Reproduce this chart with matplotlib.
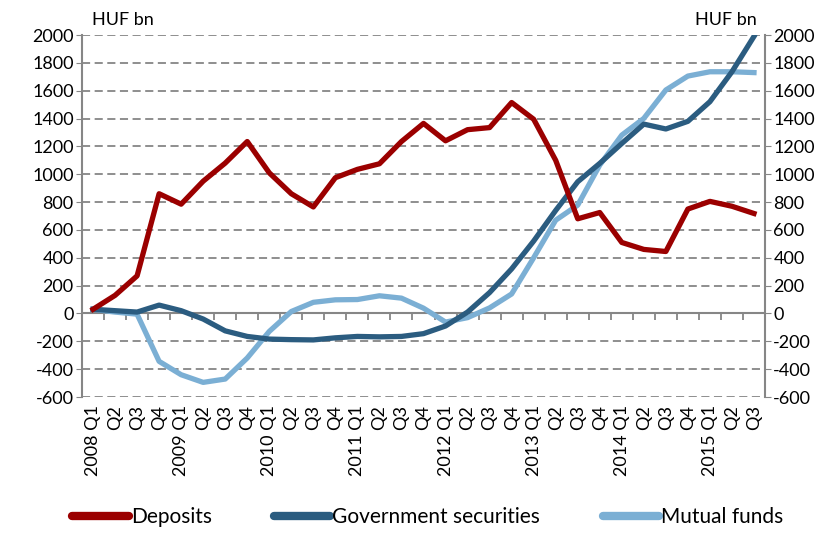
import matplotlib
matplotlib.use('Agg')
import matplotlib.pyplot as plt
import numpy as np

plt.rcParams['font.family'] = ['Lato', 'DejaVu Sans']
plt.rcParams['axes.unicode_minus'] = False

# Quarterly data, HUF bn
years = ['2008', '2009', '2010', '2011', '2012', '2013', '2014', '2015']
quarters = ['Q1', 'Q2', 'Q3', 'Q4']
deposits = [30, 130, 270, 860, 785, 950, 1080, 1235,
            1010, 860, 765, 975, 1035, 1075, 1235, 1365,
            1240, 1320, 1335, 1515, 1395, 1100, 680, 725,
            510, 460, 445, 750, 805, 770, 718]
gov_securities = [30, 20, 10, 60, 20, -40, -125, -165,
                  -184, -188, -190, -175, -165, -168, -165, -145,
                  -90, 10, 150, 320, 520, 740, 946, 1078,
                  1221, 1360, 1325, 1380, 1521, 1736, 1990]
mutual_funds = [30, 10, -5, -344, -440, -495, -471, -320,
                -129, 14, 80, 98, 100, 127, 110, 38,
                -62, -30, 40, 140, 400, 670, 778, 1066,
                1281, 1401, 1605, 1705, 1736, 1736, 1730]

labels = []
for y in years:
    for q in quarters:
        labels.append(f'{y} {q}' if q == 'Q1' else q)
labels = labels[:len(deposits)]
x = np.arange(len(deposits))

RED = '#9B0000'
NAVY = '#2B5C80'
LIGHT = '#7BAFD4'
GRID = '#868686'

fig = plt.figure(figsize=(8.39, 5.34), dpi=100)
ax = fig.add_axes([82 / 839, 1 - 397 / 534, (765 - 82) / 839, (397 - 35) / 534])

ax.plot(x, deposits, color=RED, lw=3.8, label='Deposits', zorder=4)
ax.plot(x, gov_securities, color=NAVY, lw=3.8, label='Government securities', zorder=3)
ax.plot(x, mutual_funds, color=LIGHT, lw=3.8, label='Mutual funds', zorder=2)

ax.set_xlim(-0.5, len(x) - 0.5)
ax.set_ylim(-600, 2000)
ax.set_yticks(np.arange(-600, 2001, 200))
ax.yaxis.grid(True, color=GRID, linestyle=(0, (4.5, 2.5)), linewidth=1.3)
ax.set_axisbelow(True)
ax.axhline(0, color=GRID, lw=1.5, zorder=1)

for s in ['top', 'bottom']:
    ax.spines[s].set_visible(False)
for s in ['left', 'right']:
    ax.spines[s].set_color(GRID)
    ax.spines[s].set_linewidth(1.5)

ax.tick_params(axis='y', which='both', left=True, right=True, labelleft=True,
               labelright=True, length=4, color=GRID, labelsize=13, pad=2)

# category labels at the bottom
ax.set_xticks(x)
ax.set_xticklabels(labels, rotation=90, fontsize=13)
ax.tick_params(axis='x', length=0, pad=6)

# tick marks between categories on the zero line
sec = ax.secondary_xaxis(600 / 2600)
sec.set_xticks(np.arange(len(x) + 1) - 0.5)
sec.set_xticklabels([])
sec.tick_params(length=5, width=1.3, color=GRID)
sec.spines['bottom'].set_visible(False)

fig.text(92 / 839, 1 - 20 / 534, 'HUF bn', fontsize=13, va='center', ha='left')
fig.text(757 / 839, 1 - 20 / 534, 'HUF bn', fontsize=13, va='center', ha='right')

leg = fig.legend(loc='center', bbox_to_anchor=(0.51, 1 - 517 / 534), ncol=3, frameon=False,
                 fontsize=15, handlelength=2.7, handletextpad=0.1, columnspacing=3.0)
for line in leg.get_lines():
    line.set_linewidth(6)
    line.set_solid_capstyle('round')

fig.savefig('out.png', dpi=100, facecolor='white')
